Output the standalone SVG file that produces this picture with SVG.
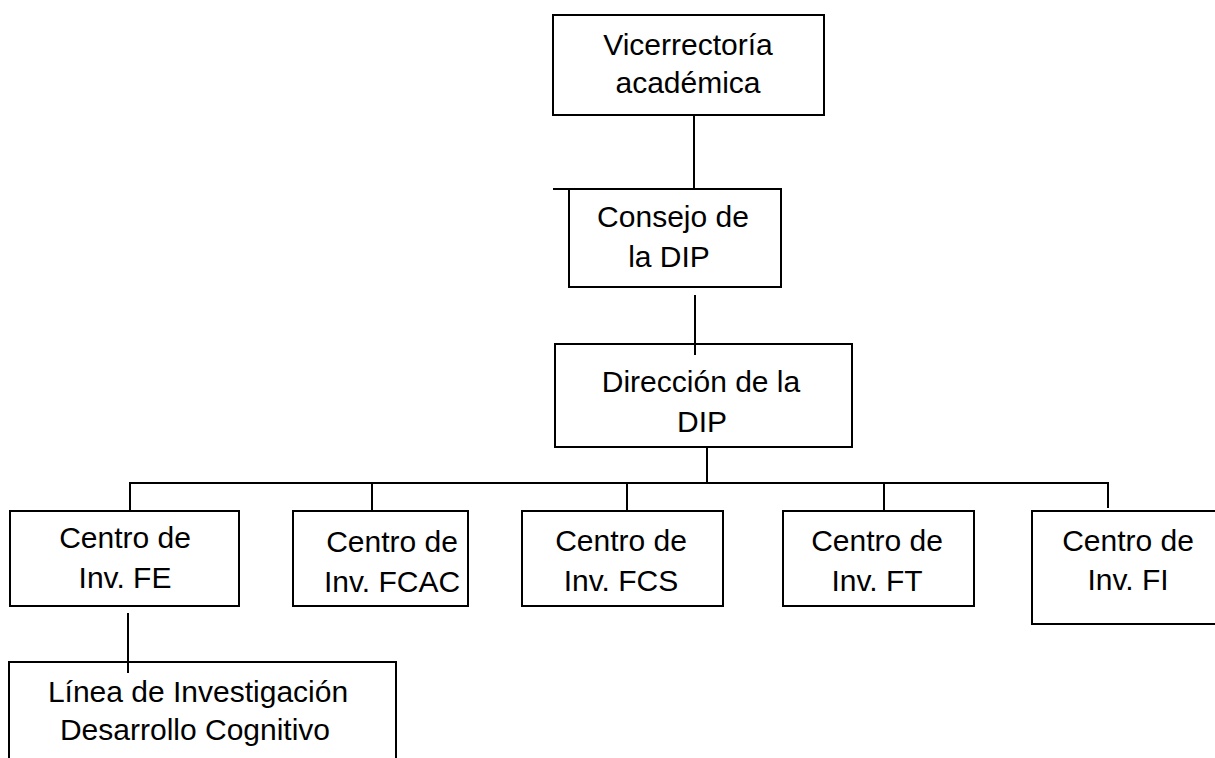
<svg xmlns="http://www.w3.org/2000/svg" width="1215" height="758" viewBox="0 0 1215 758">
<style>
.box{fill:#fff;stroke:#000;stroke-width:2}
.ln{stroke:#000;stroke-width:2;fill:none}
text{font-family:"Liberation Sans",Arial,sans-serif;font-size:30px;fill:#000;text-anchor:middle}
</style>
<rect width="1215" height="758" fill="#fff"/>
<g id="connectors">
<line class="ln" x1="694" y1="115" x2="694" y2="189"/>
<line class="ln" x1="553" y1="189" x2="569" y2="189"/>
<line class="ln" x1="695" y1="295" x2="695" y2="355"/>
<line class="ln" x1="707" y1="447" x2="707" y2="483"/>
<line class="ln" x1="129" y1="483" x2="1109" y2="483"/>
<line class="ln" x1="130" y1="483" x2="130" y2="510"/>
<line class="ln" x1="372" y1="483" x2="372" y2="510"/>
<line class="ln" x1="627" y1="483" x2="627" y2="510"/>
<line class="ln" x1="884" y1="483" x2="884" y2="510"/>
<line class="ln" x1="1108" y1="483" x2="1108" y2="508"/>
<line class="ln" x1="128" y1="613" x2="128" y2="673"/>
</g>
<g id="vicerrectoria">
<rect class="box" x="553" y="15" width="271" height="100"/>
<text x="688" y="55">Vicerrectoría</text>
<text x="688" y="93">académica</text>
</g>
<g id="consejo">
<rect class="box" x="569" y="189" width="212" height="98"/>
<text x="673" y="227">Consejo de</text>
<text x="669" y="267">la DIP</text>
</g>
<g id="direccion">
<rect class="box" x="555" y="344" width="297" height="103"/>
<line class="ln" x1="695" y1="344" x2="695" y2="355"/>
<text x="701" y="392">Dirección de la</text>
<text x="702" y="432">DIP</text>
</g>
<g id="fe">
<rect class="box" x="10" y="511" width="229" height="95"/>
<text x="125" y="548">Centro de</text>
<text x="125" y="588">Inv. FE</text>
</g>
<g id="fcac">
<rect class="box" x="293" y="511" width="175" height="95"/>
<text x="392" y="552">Centro de</text>
<text x="392" y="592">Inv. FCAC</text>
</g>
<g id="fcs">
<rect class="box" x="522" y="511" width="201" height="95"/>
<text x="621" y="551">Centro de</text>
<text x="621" y="591">Inv. FCS</text>
</g>
<g id="ft">
<rect class="box" x="783" y="511" width="191" height="95"/>
<text x="877" y="551">Centro de</text>
<text x="877" y="591">Inv. FT</text>
</g>
<g id="fi">
<rect class="box" x="1032" y="511" width="190" height="113"/>
<text x="1128" y="551">Centro de</text>
<text x="1128" y="590">Inv. FI</text>
</g>
<g id="linea">
<rect class="box" x="9" y="662" width="387" height="110"/>
<line class="ln" x1="128" y1="662" x2="128" y2="673"/>
<text x="198" y="702">Línea de Investigación</text>
<text x="195" y="740">Desarrollo Cognitivo</text>
</g>
</svg>
